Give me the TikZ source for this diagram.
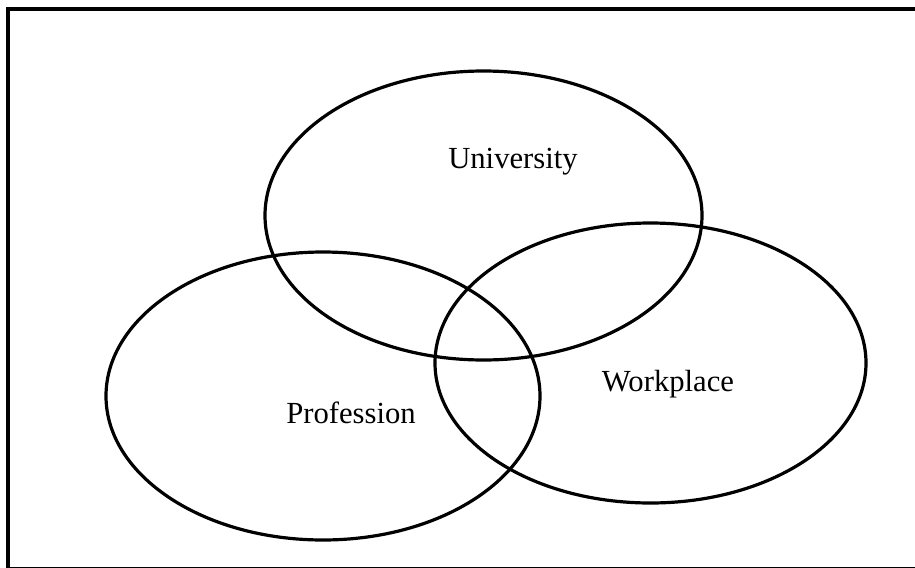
\documentclass[tikz,border=0pt]{standalone}
\usepackage{fontspec}
\setmainfont{Liberation Serif}
\begin{document}
\begin{tikzpicture}[x=0.75pt,y=-0.75pt,
  venn/.style={draw=black,line width=2.4pt},
  lbl/.style={font=\fontsize{23}{27}\selectfont,inner sep=0pt}]
\useasboundingbox (0,0) rectangle (915,568);
\draw[line width=3pt] (8,9) rectangle (918,569);
\draw[venn] (483.5,215.5) ellipse [x radius=218.5, y radius=144.5];
\draw[venn] (323,396) ellipse [x radius=217, y radius=144];
\draw[venn] (650.5,363) ellipse [x radius=215.5, y radius=140];
\node[lbl] (uni) at (513,162) {University};
\node[lbl] (work) at (668,384) {Workplace};
\node[lbl] (prof) at (351,413) {Profession};
\end{tikzpicture}
\end{document}
